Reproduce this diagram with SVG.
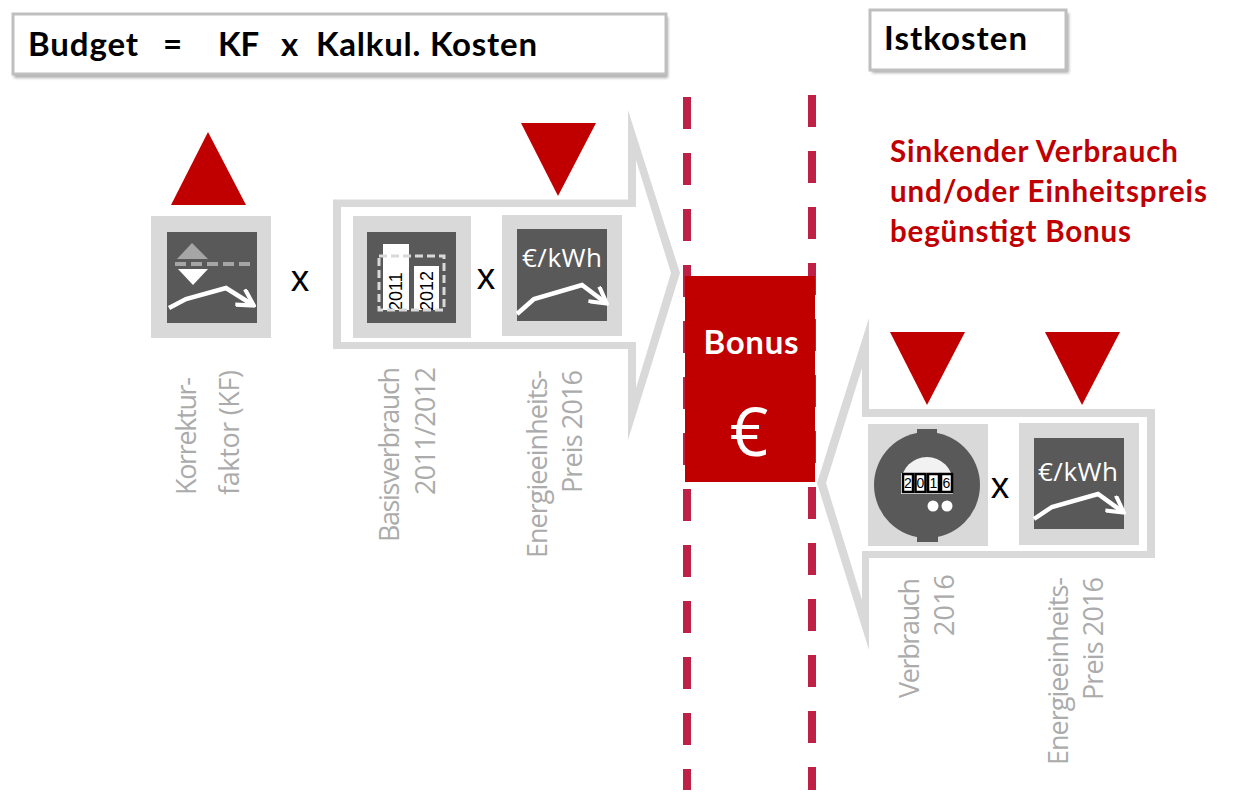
<svg xmlns="http://www.w3.org/2000/svg" width="1252" height="805" viewBox="0 0 1252 805">
<defs>
<filter id="sh" x="-5%" y="-20%" width="110%" height="150%"><feGaussianBlur stdDeviation="1.5"/></filter>
<marker id="ah" viewBox="0 0 10 10" refX="8.500" refY="5" markerWidth="4.500" markerHeight="4.500" orient="auto"><path d="M1 0.5L9 5L1 9.5" fill="none" stroke="#fff" stroke-width="2"/></marker>
</defs>
<style>
text{font-family:"Lato","Open Sans","Liberation Sans",sans-serif}
.t{font-weight:700;font-size:33px;fill:#000}
.r{font-weight:700;font-size:29.500px;fill:#c00000}
.v{font-size:27px;fill:#ababab;font-family:"Open Sans","Liberation Sans",sans-serif}
.x{font-size:37px;fill:#000;font-family:"Liberation Sans",sans-serif;text-anchor:middle}
.arrow{fill:#d9d9d9;fill-rule:evenodd}
.bg{fill:#d9d9d9}.dk{fill:#595959}
.tri{fill:#c00000}
.dash{stroke:#bf2045;stroke-width:8;stroke-dasharray:32 24;fill:none}
.line{fill:none;stroke:#fff;stroke-width:4.500}
.kwh{font-size:26px;fill:#fff;font-family:"Open Sans","Liberation Sans",sans-serif}
.yr{font-size:18px;fill:#000;font-family:"Liberation Sans",sans-serif}
.dig{font-size:14px;fill:#000;font-family:"Liberation Sans",sans-serif;text-anchor:middle}
</style>
<rect width="1252" height="805" fill="#fff"/>

<g id="connectors">
<path class="dash" d="M687 97V790"/>
<path class="dash" d="M812 95V790"/>
<path class="arrow" d="M333 199.500H628V110L680 273L628 440V349H333ZM341 207V342H636V388L671 273L636 160V207Z"/>
<path class="arrow" d="M869 318V409H1155V558H869V650L817 483ZM826 483L862 600V551H1147V417H862V368Z"/>
</g>

<g id="budget">
<rect x="14" y="17" width="654" height="61" fill="#8c8c8c" opacity=".7" filter="url(#sh)"/>
<rect x="13" y="14" width="653" height="60" fill="#fff" stroke="#bfbfbf" stroke-width="3"/>
<text class="t" x="28" y="56" textLength="110">Budget</text>
<text class="t" y="56"><tspan x="163">=</tspan><tspan x="218">KF</tspan><tspan x="281">x</tspan></text>
<text class="t" x="316" y="56" textLength="221">Kalkul. Kosten</text>
</g>
<g id="istkosten">
<rect x="872" y="13" width="197" height="60" fill="#8c8c8c" opacity=".7" filter="url(#sh)"/>
<rect x="870" y="10" width="196" height="60" fill="#fff" stroke="#bfbfbf" stroke-width="3"/>
<text class="t" x="884" y="50" textLength="143">Istkosten</text>
</g>
<g id="note">
<text class="r" x="890" y="162" textLength="288">Sinkender Verbrauch</text>
<text class="r" x="890" y="202" textLength="317">und/oder Einheitspreis</text>
<text class="r" x="890" y="242" textLength="241">begünstigt Bonus</text>
</g>

<g id="kf">
<polygon class="tri" points="208,132 171,205 246,205"/>
<rect class="bg" x="151" y="216" width="120" height="122"/>
<rect class="dk" x="167" y="232" width="90" height="91"/>
<polygon points="192,243 177,259 208,259" fill="#a6a6a6"/>
<path d="M175 264H251" stroke="#a6a6a6" stroke-width="4" stroke-dasharray="11 5" fill="none"/>
<polygon points="193,285 178,269 208,269" fill="#fff"/>
<path class="line" d="M169 308L186 299L226 288L253 305" marker-end="url(#ah)"/>
<text class="x" x="300" y="291">x</text>
<text class="v" transform="translate(196 495) rotate(-90)" textLength="118">Korrektur-</text>
<text class="v" transform="translate(239 495) rotate(-90)" textLength="125">faktor (KF)</text>
</g>

<g id="basis">
<rect class="bg" x="353" y="216" width="118" height="122"/>
<rect class="dk" x="367" y="232" width="89" height="91"/>
<rect x="383" y="244" width="26" height="66" fill="#fff"/>
<rect x="414" y="266" width="25" height="44" fill="#fff"/>
<text class="yr" transform="translate(402 311) rotate(-90)">2011</text>
<text class="yr" transform="translate(433 311) rotate(-90)">2012</text>
<rect x="379" y="256" width="65" height="54" fill="none" stroke="#d9d9d9" stroke-width="3" stroke-dasharray="8 4"/>
<text class="v" transform="translate(399 542) rotate(-90)" textLength="175">Basisverbrauch</text>
<text class="v" transform="translate(435 495) rotate(-90)" textLength="128">2011/2012</text>
</g>

<text id="times1" class="x" x="486" y="289">x</text>

<g id="preis1">
<polygon class="tri" points="558,196 521,123 596,123"/>
<rect class="bg" x="502" y="215" width="120" height="121"/>
<rect class="dk" x="517" y="229" width="90" height="92"/>
<text class="kwh" x="562" y="267" text-anchor="middle" textLength="80">€/kWh</text>
<path class="line" d="M517 314L534 299L582 285L606 303" marker-end="url(#ah)"/>
<text class="v" transform="translate(547 558) rotate(-90)" textLength="188">Energieeinheits-</text>
<text class="v" transform="translate(582 493) rotate(-90)" textLength="123">Preis 2016</text>
</g>

<g id="bonus">
<rect x="685" y="276" width="130" height="206" fill="#c00000"/>
<text x="751" y="354" text-anchor="middle" font-size="33" font-weight="700" fill="#fff" textLength="95">Bonus</text>
<text x="749" y="456" text-anchor="middle" font-size="68" fill="#fff" style="font-family:'Open Sans',sans-serif">€</text>
</g>

<g id="verbrauch">
<polygon class="tri" points="927,405 890,332 965,332"/>
<rect class="bg" x="868" y="424" width="120" height="122"/>
<rect class="dk" x="917" y="429" width="20" height="10"/>
<rect class="dk" x="917" y="532" width="21" height="10"/>
<circle class="dk" cx="927" cy="485" r="53"/>
<path d="M901 483A26 26 0 0 1 953 483Z" fill="#f2f2f2"/>
<rect x="901" y="473" width="52" height="21" fill="#fff"/>
<g fill="none" stroke="#000" stroke-width="2.500">
<rect x="903" y="474" width="10" height="18"/><rect x="915.500" y="474" width="10" height="18"/><rect x="928" y="474" width="11" height="18"/><rect x="941" y="474" width="11" height="18"/>
</g>
<text class="dig" x="908" y="488">2</text><text class="dig" x="920.500" y="488">0</text><text class="dig" x="933.500" y="488">1</text><text class="dig" x="946.500" y="488">6</text>
<circle cx="933" cy="506" r="5.500" fill="#fff"/><circle cx="947" cy="506" r="5.500" fill="#fff"/>
<text class="v" transform="translate(919 698) rotate(-90)" textLength="120">Verbrauch</text>
<text class="v" transform="translate(954 636) rotate(-90)">2016</text>
</g>

<text id="times2" class="x" x="1000" y="498">x</text>

<g id="preis2">
<polygon class="tri" points="1082,405 1045,332 1120,332"/>
<rect class="bg" x="1019" y="423" width="120" height="122"/>
<rect class="dk" x="1034" y="438" width="90" height="91"/>
<text class="kwh" x="1078" y="481" text-anchor="middle" textLength="80">€/kWh</text>
<path class="line" d="M1034 519L1052 507L1098 494L1123 512" marker-end="url(#ah)"/>
<text class="v" transform="translate(1068 765) rotate(-90)" textLength="188">Energieeinheits-</text>
<text class="v" transform="translate(1103 700) rotate(-90)" textLength="123">Preis 2016</text>
</g>
</svg>
